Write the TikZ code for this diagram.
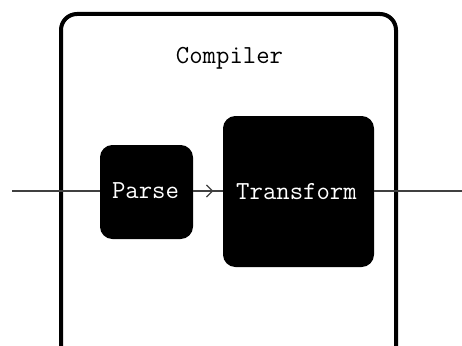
\documentclass[tikz,border=0pt]{standalone}
\usetikzlibrary{decorations.markings,arrows.meta}
\begin{document}
\begin{tikzpicture}[x=1pt,y=-1pt,
  lbl/.style={font=\ttfamily\fontsize{26}{29}\selectfont,inner sep=0pt},
  blk/.style={draw=black,fill=black,rounded corners=12pt,line width=1pt,inner sep=0pt},
  conn/.style={draw=black!75,line width=1.3pt}]
\useasboundingbox (0,0) rectangle (462,345);
\begin{scope}
\clip (0,0) rectangle (462,345);
\draw[line width=4pt,rounded corners=16pt] (61,14) rectangle (396,380);
\end{scope}
\node[lbl] (title) at (229.5,58) {Compiler};
\node[blk,minimum width=92pt,minimum height=93pt] (parse) at (146.5,192) {};
\node[lbl,text=white] (plabel) at (145.5,191) {Parse};
\node[blk,minimum width=150pt,minimum height=150pt] (transform) at (298.5,191.5) {};
\node[lbl,text=white] (tlabel) at (296.5,192) {Transform};
\coordinate (in) at (12,191);
\coordinate (out) at (462,191);
\draw[conn] (in) -- (parse.west |- in);
\draw[conn,postaction={decorate},decoration={markings,mark=at position 0.68 with {\arrow{Straight Barb[length=6pt,width=12pt]}}}] (parse.east |- in) -- (transform.west |- in);
\draw[conn] (transform.east |- in) -- (out);
\end{tikzpicture}
\end{document}
